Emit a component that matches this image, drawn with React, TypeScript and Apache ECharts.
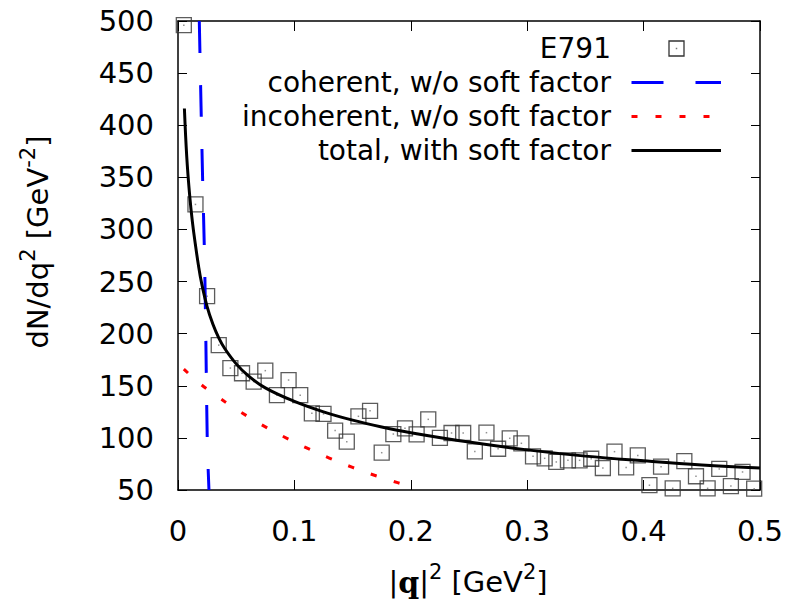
import React, { useEffect, useRef } from "react";
import * as echarts from "echarts";

// ---- data ----
const xMin = 0;
const xMax = 0.5;
const xStep = 0.1;
const yMin = 50;
const yMax = 500;
const yStep = 50;

const e791Q2 = [
  0.005, 0.015, 0.025, 0.035, 0.045, 0.055, 0.065, 0.075, 0.085, 0.095,
  0.105, 0.115, 0.125, 0.135, 0.145, 0.155, 0.165, 0.175, 0.185, 0.195,
  0.205, 0.215, 0.225, 0.235, 0.245, 0.255, 0.265, 0.275, 0.285, 0.295,
  0.305, 0.315, 0.325, 0.335, 0.345, 0.355, 0.365, 0.375, 0.385, 0.395,
  0.405, 0.415, 0.425, 0.435, 0.445, 0.455, 0.465, 0.475, 0.485, 0.495,
];
const e791Counts = [
  496, 324, 236, 189, 167, 162, 154, 164.5, 141, 155.5,
  141, 123.6, 123, 107, 96.4, 120.7, 126, 85.8, 103.7, 109.2,
  103.4, 117.8, 100, 104.7, 104.7, 87, 105, 89.6, 99.6, 94.8,
  82.3, 80.4, 76.9, 78.5, 78.5, 80, 71.1, 86.8, 71.7, 83.2,
  54.6, 72.4, 51.6, 77.8, 63.2, 51.6, 70.2, 53.8, 67.3, 51.3,
];

const coherentQ2 = [0.0183, 0.0198, 0.0212, 0.0226, 0.0236, 0.0252, 0.0266];
const coherentVals = [500, 418, 346, 283, 220, 95, 50];

const incoherentQ2 = [0.005, 0.02, 0.04, 0.06, 0.08, 0.1, 0.12, 0.14, 0.16, 0.18, 0.2];
const incoherentVals = [166, 151, 135, 120.5, 107.5, 96, 85.5, 76, 67.5, 60, 53.3];

const totalQ2 = [
  0.0055, 0.0075, 0.01, 0.0125, 0.015, 0.0175, 0.02, 0.025, 0.03, 0.035, 0.04,
  0.05, 0.06, 0.075, 0.1, 0.125, 0.15, 0.175, 0.2, 0.25, 0.3, 0.35, 0.4, 0.45, 0.5,
];
const totalVals = [
  416, 370, 333, 306, 285, 266, 250, 226, 209, 196, 186,
  171, 160, 148, 135, 125, 117, 110.5, 105, 96, 88.5, 82.5, 78, 74, 71,
];

const legendLabels = [
  "E791",
  "coherent, w/o soft factor",
  "incoherent, w/o soft factor",
  "total, with soft factor",
];

const zip = (xs: number[], ys: number[]) => xs.map((x, i) => [x, ys[i]]);

const FONT = "DejaVu Sans";

export default function App() {
  const ref = useRef<HTMLDivElement>(null);

  useEffect(() => {
    if (!ref.current) return;
    const chart = echarts.init(ref.current, undefined, { renderer: "svg" });

    const axisLine = { show: true, onZero: false, lineStyle: { color: "#000", width: 1.5 } };
    const tick = { show: true, inside: true, length: 10, lineStyle: { color: "#000", width: 1 } };
    const label = { fontSize: 29, fontFamily: FONT, color: "#000" };

    const legendX = 611;
    const legendRows = [48.5, 82.5, 116.5, 150.5];
    const lineX1 = 631.5;
    const lineX2 = 721;

    const textEl = (txt: string, y: number) => ({
      type: "text",
      x: legendX,
      y,
      silent: true,
      style: {
        text: txt,
        fontSize: 28,
        fontFamily: FONT,
        fill: "#000",
        textAlign: "right",
        align: "right",
        textVerticalAlign: "middle",
        verticalAlign: "middle",
      },
    });

    const supRich = {
      m: { fontSize: 29, fontFamily: FONT, lineHeight: 42, verticalAlign: "middle", fill: "#000", color: "#000" },
      s: { fontSize: 21, fontFamily: FONT, lineHeight: 21, verticalAlign: "top", fill: "#000", color: "#000" },
      b: {
        fontSize: 30,
        fontFamily: "DejaVu Serif",
        fontWeight: "bold",
        lineHeight: 42,
        verticalAlign: "middle",
        fill: "#000",
        color: "#000",
      },
    };

    const option: any = {
      animation: false,
      grid: {
        left: 178,
        right: 26,
        top: 21,
        bottom: 114,
        containLabel: false,
        outerBoundsMode: "none",
      },
      xAxis: [
        {
          type: "value",
          position: "bottom",
          min: xMin,
          max: xMax,
          interval: xStep,
          axisLine,
          axisTick: tick,
          axisLabel: { ...label, margin: 26 },
          splitLine: { show: false },
        },
        {
          type: "value",
          position: "top",
          min: xMin,
          max: xMax,
          interval: xStep,
          axisLine,
          axisTick: tick,
          axisLabel: { show: false },
          splitLine: { show: false },
        },
      ],
      yAxis: [
        {
          type: "value",
          position: "left",
          min: yMin,
          max: yMax,
          interval: yStep,
          axisLine,
          axisTick: { ...tick, length: 9 },
          axisLabel: { ...label, margin: 24 },
          splitLine: { show: false },
        },
        {
          type: "value",
          position: "right",
          min: yMin,
          max: yMax,
          interval: yStep,
          axisLine,
          axisTick: { ...tick, length: 9 },
          axisLabel: { show: false },
          splitLine: { show: false },
        },
      ],
      series: [
        {
          name: legendLabels[0],
          type: "scatter",
          data: zip(e791Q2, e791Counts),
          symbol: "rect",
          symbolSize: 15,
          silent: true,
          itemStyle: { color: "rgba(0,0,0,0)", borderColor: "#333", borderWidth: 1.3 },
        },
        {
          name: "E791 centre",
          type: "scatter",
          data: zip(e791Q2, e791Counts),
          symbol: "rect",
          symbolSize: 1.5,
          silent: true,
          itemStyle: { color: "#777" },
        },
        {
          name: legendLabels[1],
          type: "line",
          data: zip(coherentQ2, coherentVals),
          showSymbol: false,
          symbol: "none",
          smooth: 0.3,
          silent: true,
          lineStyle: { color: "#0000ff", width: 3, type: [32, 32], cap: "butt" },
        },
        {
          name: legendLabels[2],
          type: "line",
          data: zip(incoherentQ2, incoherentVals),
          showSymbol: false,
          symbol: "none",
          smooth: 0.3,
          silent: true,
          lineStyle: { color: "#ff0000", width: 3, type: [6, 18], cap: "butt" },
        },
        {
          name: legendLabels[3],
          type: "line",
          data: zip(totalQ2, totalVals),
          showSymbol: false,
          symbol: "none",
          smooth: 0.4,
          silent: true,
          lineStyle: { color: "#000", width: 3, type: "solid" },
        },
      ],
      graphic: [
        textEl(legendLabels[0], legendRows[0]),
        textEl(legendLabels[1], legendRows[1]),
        textEl(legendLabels[2], legendRows[2]),
        textEl(legendLabels[3], legendRows[3]),
        {
          type: "rect",
          silent: true,
          shape: { x: 676.5 - 7.5, y: legendRows[0] - 7.5, width: 15, height: 15 },
          style: { fill: "none", stroke: "#333", lineWidth: 1.3 },
        },
        {
          type: "rect",
          silent: true,
          shape: { x: 675.75, y: legendRows[0] - 0.75, width: 1.5, height: 1.5 },
          style: { fill: "#777" },
        },
        {
          type: "line",
          silent: true,
          shape: { x1: lineX1, y1: legendRows[1], x2: lineX2, y2: legendRows[1] },
          style: { stroke: "#0000ff", lineWidth: 3, lineDash: [32, 32] },
        },
        {
          type: "line",
          silent: true,
          shape: { x1: lineX1, y1: legendRows[2], x2: lineX2, y2: legendRows[2] },
          style: { stroke: "#ff0000", lineWidth: 3, lineDash: [6, 18] },
        },
        {
          type: "line",
          silent: true,
          shape: { x1: lineX1, y1: legendRows[3], x2: lineX2, y2: legendRows[3] },
          style: { stroke: "#000", lineWidth: 3 },
        },
        {
          type: "text",
          silent: true,
          x: 468,
          y: 582,
          style: {
            text: "{m||}{b|q}{m||}{s|2}{m| [GeV}{s|2}{m|]}",
            fontSize: 29,
            fontFamily: FONT,
            fill: "#000",
            textAlign: "center",
            align: "center",
            textVerticalAlign: "middle",
            verticalAlign: "middle",
            rich: supRich,
          },
        },
        {
          type: "text",
          silent: true,
          x: 38,
          y: 242,
          rotation: Math.PI / 2,
          style: {
            text: "{m|dN/dq}{s|2}{m| [GeV}{s|-2}{m|]}",
            fontSize: 29,
            fontFamily: FONT,
            fill: "#000",
            textAlign: "center",
            align: "center",
            textVerticalAlign: "middle",
            verticalAlign: "middle",
            rich: supRich,
          },
        },
      ],
    };

    chart.setOption(option);
    return () => chart.dispose();
  }, []);

  return (
    <div
      ref={ref}
      style={{ position: "fixed", left: 0, top: 0, width: 786, height: 604, background: "#fff" }}
    />
  );
}
